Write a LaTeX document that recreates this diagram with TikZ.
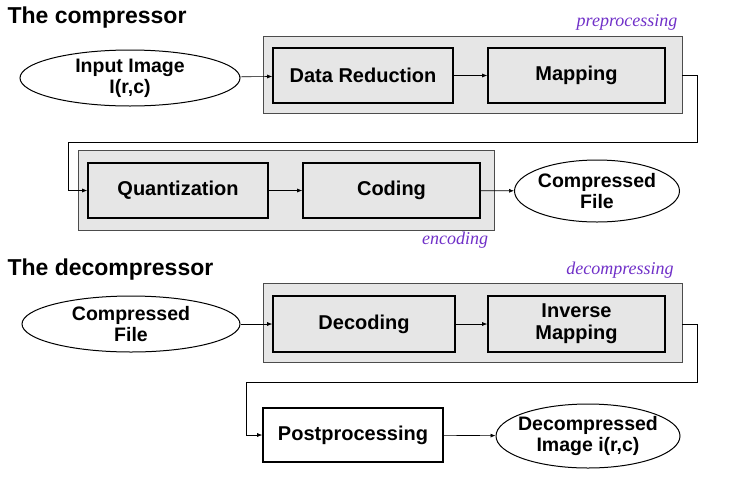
\documentclass[tikz,border=0pt]{standalone}
\usepackage{fontspec}
\setmainfont{Liberation Sans}
\newfontfamily\serifit{Liberation Serif}
\usetikzlibrary{shapes.geometric,arrows.meta}
\definecolor{grp}{RGB}{230,230,230}
\definecolor{purp}{RGB}{112,48,200}
\begin{document}
\begin{tikzpicture}[x=1pt,y=-1pt,
  grpbox/.style={draw=black!70,fill=grp,line width=0.6pt},
  stepbox/.style={draw,line width=1.6pt,fill=grp,font=\bfseries\fontsize{20}{22}\selectfont,align=center},
  ell/.style={draw,ellipse,line width=1pt,fill=white,inner sep=0pt},
  elltxt/.style={font=\bfseries\fontsize{19.5}{21}\selectfont,align=center,inner sep=0pt},
  lab/.style={font=\serifit\itshape\fontsize{18}{19}\selectfont,text=purp},
  ttl/.style={font=\bfseries\fontsize{23}{25}\selectfont,anchor=west},
  arr/.style={-{Latex[length=5pt,width=4pt]},line width=0.6pt}]
\useasboundingbox (0,0) rectangle (743,477);
\node[ttl] (t1) at (4,18) {The compressor};
\node[lab] (l1) at (627,22) {preprocessing};
\node[grpbox,minimum width=419,minimum height=77] (g1) at (472.5,74.5) {};
\node[ell,minimum width=220,minimum height=56] (in) at (130,78) {};
\node[elltxt] (inT) at (in.center) {Input Image\\I(r,c)};
\node[stepbox,minimum width=180,minimum height=55] (dr) at (363,75.5) {Data Reduction};
\node[stepbox,minimum width=177,minimum height=55] (mp) at (576.5,75.5) {Mapping};
\draw[arr] (in) -- (dr);
\draw[arr] (dr) -- (mp);
\node[grpbox,minimum width=416,minimum height=80] (g2) at (286,190) {};
\node[stepbox,minimum width=180,minimum height=55] (qu) at (178,190.5) {Quantization};
\node[stepbox,minimum width=177,minimum height=55] (co) at (391.5,190.5) {Coding};
\node[ell,minimum width=165,minimum height=62] (cf) at (597,191) {};
\node[elltxt] (cfT) at (cf.center) {Compressed\\File};
\node[lab] (l2) at (455,240) {encoding};
\coordinate (c1) at (697,142);
\coordinate (c2) at (68,142);
\draw[arr] (g1.east |- mp) -| (c1) -- (c2) |- (qu.west);
\draw[arr] (qu) -- (co);
\draw[arr] (co) -- (cf);
\node[ttl] (t2) at (4,270) {The decompressor};
\node[lab] (l3) at (620,270) {decompressing};
\node[grpbox,minimum width=419,minimum height=79] (g3) at (472.5,322.5) {};
\node[ell,minimum width=218,minimum height=56] (cf2) at (131,324) {};
\node[elltxt] (cf2T) at (cf2.center) {Compressed\\File};
\node[stepbox,minimum width=182,minimum height=56] (de) at (364,324) {Decoding};
\node[stepbox,minimum width=177,minimum height=56] (im) at (576.5,324) {Inverse\\Mapping};
\draw[arr] (cf2) -- (de);
\draw[arr] (de) -- (im);
\node[stepbox,fill=white,minimum width=180,minimum height=54] (pp) at (353,435) {Postprocessing};
\node[ell,minimum width=184,minimum height=64] (di) at (588,436) {};
\node[elltxt] (diT) at (di.center) {Decompressed\\Image i(r,c)};
\coordinate (c3) at (697,382);
\coordinate (c4) at (246,382);
\draw[arr] (g3.east |- im) -| (c3) -- (c4) |- (pp.west);
\draw[arr] (pp) -- (di);
\end{tikzpicture}
\end{document}
